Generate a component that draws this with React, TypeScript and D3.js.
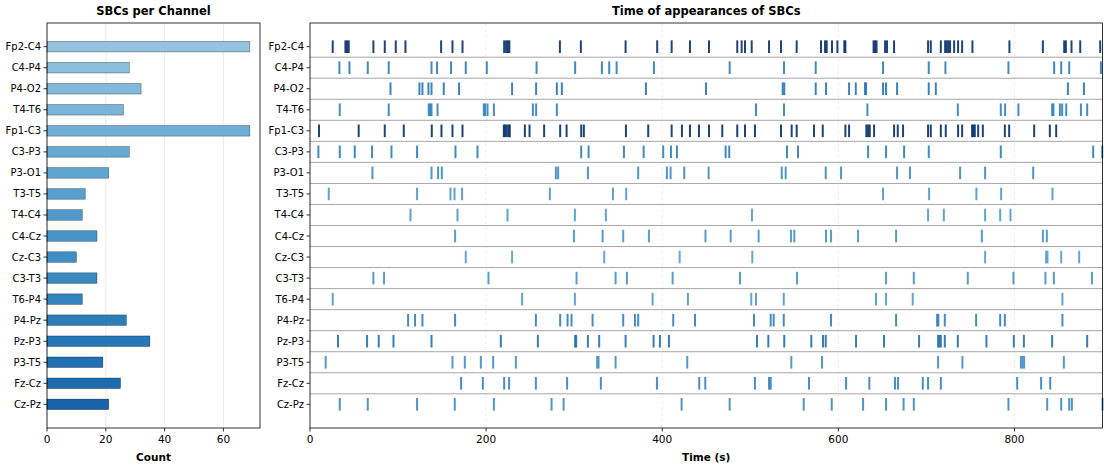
import React from 'react';
import * as d3 from 'd3';

// EEG bipolar channels, top to bottom
const channels = [
  'Fp2-C4', 'C4-P4', 'P4-O2', 'T4-T6', 'Fp1-C3', 'C3-P3', 'P3-O1', 'T3-T5', 'T4-C4',
  'C4-Cz', 'Cz-C3', 'C3-T3', 'T6-P4', 'P4-Pz', 'Pz-P3', 'P3-T5', 'Fz-Cz', 'Cz-Pz',
];

// number of SBCs detected on each channel
const counts = [69, 28, 32, 26, 69, 28, 21, 13, 12, 17, 10, 17, 12, 27, 35, 19, 25, 21];

// onset times (s) of SBCs per channel
const tFp2C4 = [25.8, 40.2, 42.0, 44.0, 72.0, 84.9, 97.4, 108.4, 148.9, 161.8, 173.2, 220.5, 222.7, 224.7, 226.4, 283.8, 307.6, 358.4, 394.3, 410.7, 431.5, 453.1, 485.2, 490.2, 494.0, 501.6, 521.3, 534.9, 552.7, 580.3, 584.9, 586.8, 592.8, 598.9, 606.8, 608.0, 640.0, 641.7, 643.4, 653.1, 655.3, 663.3, 701.9, 705.0, 716.4, 721.3, 723.2, 725.0, 726.9, 731.5, 736.0, 740.6, 752.3, 794.3, 832.3, 856.5, 858.4, 864.8, 874.7, 897.4];
const tC4P4 = [33.4, 44.8, 65.6, 89.4, 138.0, 144.3, 160.2, 176.9, 200.8, 257.3, 301.1, 331.5, 339.8, 348.2, 390.6, 476.6, 538.3, 574.3, 650.8, 702.7, 721.6, 793.2, 845.1, 853.1, 862.2, 898.2];
const tP4O2 = [91.4, 124.3, 127.7, 134.5, 138.0, 151.9, 169.3, 229.5, 256.8, 280.3, 286.0, 381.5, 449.7, 536.8, 538.6, 574.3, 586.0, 612.2, 619.8, 630.3, 631.5, 650.8, 654.2, 666.7, 702.7, 710.7, 860.7, 878.9];
const tT4T6 = [33.8, 89.4, 134.9, 136.4, 138.0, 144.8, 197.4, 198.9, 201.6, 208.8, 253.1, 256.8, 280.3, 506.5, 538.3, 633.0, 735.7, 784.5, 789.4, 804.5, 842.8, 844.3, 851.6, 854.2, 858.8, 875.5, 882.6];
const tFp1C3 = [10.2, 55.3, 84.9, 106.5, 138.3, 149.3, 161.8, 173.2, 220.1, 221.6, 223.5, 225.5, 226.9, 244.0, 249.3, 265.9, 284.1, 291.4, 308.0, 311.0, 358.8, 384.1, 410.7, 422.4, 431.5, 441.7, 453.1, 468.2, 485.2, 494.0, 505.3, 534.9, 547.0, 552.7, 572.4, 582.3, 608.0, 612.2, 631.8, 633.8, 635.7, 640.6, 663.3, 667.5, 673.5, 701.9, 705.0, 716.4, 722.0, 736.0, 740.6, 751.9, 753.4, 755.0, 758.8, 764.1, 789.1, 794.0, 822.4, 840.2, 847.4];
const tC3P3 = [9.5, 33.8, 50.8, 70.5, 92.5, 121.6, 165.2, 190.2, 308.0, 316.4, 356.5, 378.9, 401.1, 409.9, 416.7, 472.0, 476.1, 541.7, 554.2, 633.8, 654.2, 674.7, 702.7, 784.5, 889.4, 899.7];
const tP3O1 = [70.9, 138.0, 145.5, 149.7, 279.2, 281.8, 315.6, 372.7, 405.3, 409.5, 425.0, 452.7, 535.7, 540.2, 585.7, 603.1, 666.7, 681.3, 738.3, 766.7, 821.3];
const tT3T5 = [21.3, 121.6, 159.5, 164.1, 172.7, 272.4, 344.0, 359.1, 650.8, 703.1, 756.8, 784.9, 843.2];
const tT4C4 = [114.1, 167.5, 224.3, 300.8, 336.0, 501.9, 701.9, 719.8, 766.7, 783.8, 795.5];
const tC4Cz = [164.8, 299.7, 332.3, 355.7, 384.9, 449.1, 477.7, 509.5, 546.2, 550.0, 586.0, 591.7, 622.4, 665.6, 763.0, 832.3, 836.8];
const tCzC3 = [176.9, 229.5, 334.1, 419.8, 502.3, 766.7, 836.0, 837.5, 853.1, 873.5];
const tC3T3 = [72.0, 84.1, 202.7, 302.7, 347.0, 359.9, 411.8, 488.3, 553.1, 654.2, 685.7, 747.0, 798.9, 835.2, 844.8, 888.0];
const tT6P4 = [25.8, 240.9, 300.8, 389.1, 429.2, 501.1, 506.5, 538.0, 642.8, 654.2, 684.5, 854.5];
const tP4Pz = [111.4, 119.3, 127.7, 164.8, 256.5, 284.1, 292.5, 297.0, 320.9, 355.7, 369.0, 372.7, 412.5, 437.2, 504.2, 523.2, 526.6, 538.0, 591.7, 665.6, 712.2, 713.6, 720.9, 756.5, 783.8, 789.1, 854.5];
const tPzP3 = [31.8, 64.8, 78.1, 94.8, 138.0, 216.7, 258.8, 301.1, 302.3, 315.6, 328.4, 358.4, 390.2, 397.4, 407.6, 507.6, 520.5, 538.6, 569.3, 582.6, 585.7, 620.1, 651.9, 691.7, 713.3, 714.8, 716.4, 720.9, 735.7, 768.2, 799.3, 810.7, 842.8, 882.6];
const tP3T5 = [17.8, 161.8, 175.8, 194.0, 208.0, 233.8, 326.1, 327.7, 347.0, 428.4, 546.6, 581.5, 713.3, 740.9, 807.3, 809.1, 811.0, 856.1];
const tFzCz = [171.6, 196.3, 220.5, 226.1, 256.5, 292.0, 330.3, 394.0, 442.0, 448.9, 505.3, 521.3, 523.2, 566.7, 608.8, 635.2, 664.4, 667.8, 695.9, 701.9, 716.4, 803.1, 830.3, 840.6];
const tCzPz = [33.8, 65.6, 121.6, 164.4, 208.8, 274.3, 288.0, 422.0, 476.6, 560.7, 592.5, 628.1, 654.2, 674.1, 685.7, 793.2, 837.2, 853.1, 862.2, 865.2, 900.0];

const eventTimes = [
  tFp2C4, tC4P4, tP4O2, tT4T6, tFp1C3, tC3P3, tP3O1, tT3T5, tT4C4,
  tC4Cz, tCzC3, tC3T3, tT6P4, tP4Pz, tPzP3, tP3T5, tFzCz, tCzPz,
];

const countTicks = [0, 20, 40, 60];
const timeTicks = [0, 200, 400, 600, 800];

const W = 1104;
const H = 465;
const FONT = '"DejaVu Sans", sans-serif';
const TOP = 23;
const BOTTOM = 428;

export default function App() {
  const n = channels.length;
  const maxCount = d3.max(counts) as number;

  // shared vertical scale: row index -> pixel (first row at top)
  const y = d3.scaleLinear().domain([-1.125, n - 1 + 1.125]).range([TOP, BOTTOM]);

  const xCount = d3.scaleLinear().domain([0, maxCount * 1.05]).range([47, 260]);
  const xTime = d3.scaleLinear().domain([0, 900]).range([310, 1102.5]);

  const barColor = (i: number) => d3.interpolateBlues(0.4 + (0.4 * i) / (n - 1));
  const eventColor = (i: number) => d3.interpolateBlues(0.5 + (0.5 * counts[i]) / maxCount);

  const barH = y(0.25) - y(-0.25);
  const tickHalf = y(0.3) - y(0);

  const yLabels = (x0: number) =>
    channels.map((c, i) => (
      <g key={c}>
        <line x1={x0 - 3.5} x2={x0} y1={y(i)} y2={y(i)} stroke="#000" strokeWidth={0.8} />
        <text x={x0 - 6} y={y(i)} dy="0.35em" textAnchor="end" fontSize={10} fontFamily={FONT}>
          {c}
        </text>
      </g>
    ));

  const xAxis = (scale: d3.ScaleLinear<number, number>, ticks: number[]) =>
    ticks.map((t) => (
      <g key={t}>
        <line x1={scale(t)} x2={scale(t)} y1={BOTTOM} y2={BOTTOM + 3.5} stroke="#000" strokeWidth={0.8} />
        <text x={scale(t)} y={BOTTOM + 7} dy="0.75em" textAnchor="middle" fontSize={10.5} fontFamily={FONT}>
          {t}
        </text>
      </g>
    ));

  const [lx0, lx1] = xCount.range();
  const [rx0, rx1] = xTime.range();

  return (
    <div style={{ position: 'absolute', left: 0, top: 0 }}>
      <svg width={W} height={H} viewBox={`0 0 ${W} ${H}`} style={{ display: 'block', background: '#fff' }}>
        {/* ---- left: SBC count per channel ---- */}
        <text x={(lx0 + lx1) / 2} y={15} textAnchor="middle" fontSize={11.5} fontWeight="bold" fontFamily={FONT}>
          SBCs per Channel
        </text>
        {countTicks.map((t) => (
          <line key={t} x1={xCount(t)} x2={xCount(t)} y1={TOP} y2={BOTTOM} stroke="#b0b0b0" strokeOpacity={0.3} strokeWidth={0.8} />
        ))}
        {counts.map((c, i) => (
          <rect
            key={channels[i]}
            x={xCount(0)}
            y={y(i) - barH / 2}
            width={xCount(c) - xCount(0)}
            height={barH}
            fill={barColor(i)}
            stroke="#000"
            strokeOpacity={0.6}
            strokeWidth={0.5}
          />
        ))}
        <rect x={lx0} y={TOP} width={lx1 - lx0} height={BOTTOM - TOP} fill="none" stroke="#000" strokeWidth={0.8} />
        {yLabels(lx0)}
        {xAxis(xCount, countTicks)}
        <text x={(lx0 + lx1) / 2} y={461} textAnchor="middle" fontSize={10.5} fontWeight="bold" fontFamily={FONT}>
          Count
        </text>

        {/* ---- right: event raster ---- */}
        <text x={(rx0 + rx1) / 2} y={15} textAnchor="middle" fontSize={11.5} fontWeight="bold" fontFamily={FONT}>
          Time of appearances of SBCs
        </text>
        {timeTicks.map((t) => (
          <line key={t} x1={xTime(t)} x2={xTime(t)} y1={TOP} y2={BOTTOM} stroke="#b0b0b0" strokeOpacity={0.3} strokeWidth={0.8} strokeDasharray="3,3" />
        ))}
        {channels.slice(0, n - 1).map((c, i) => (
          <line key={c} x1={rx0} x2={rx1} y1={y(i + 0.5)} y2={y(i + 0.5)} stroke="#808080" strokeOpacity={0.7} strokeWidth={1} />
        ))}
        {eventTimes.map((times, i) => (
          <g key={channels[i]} stroke={eventColor(i)} strokeWidth={2} strokeOpacity={0.9}>
            {times.map((t, k) => (
              <line key={k} x1={xTime(t)} x2={xTime(t)} y1={y(i) - tickHalf} y2={y(i) + tickHalf} />
            ))}
          </g>
        ))}
        <rect x={rx0} y={TOP} width={rx1 - rx0} height={BOTTOM - TOP} fill="none" stroke="#000" strokeWidth={0.8} />
        {yLabels(rx0)}
        {xAxis(xTime, timeTicks)}
        <text x={(rx0 + rx1) / 2} y={461} textAnchor="middle" fontSize={10.5} fontWeight="bold" fontFamily={FONT}>
          Time (s)
        </text>
      </svg>
    </div>
  );
}
